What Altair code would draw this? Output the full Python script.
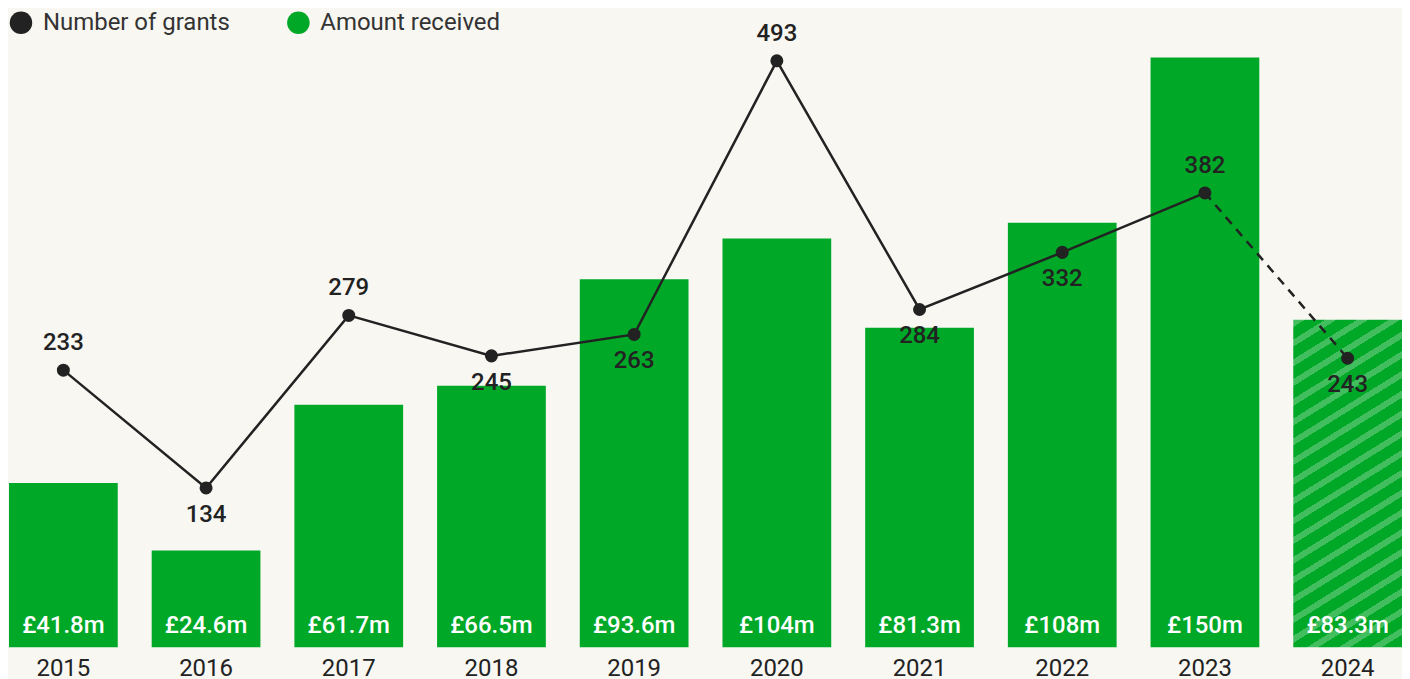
import altair as alt
import pandas as pd

years = ["2015", "2016", "2017", "2018", "2019", "2020", "2021", "2022", "2023", "2024"]
amounts = [41.8, 24.6, 61.7, 66.5, 93.6, 104, 81.3, 108, 150, 83.3]
amount_labels = ["£41.8m", "£24.6m", "£61.7m", "£66.5m", "£93.6m", "£104m", "£81.3m", "£108m", "£150m", "£83.3m"]
grants = [233, 134, 279, 245, 263, 493, 284, 332, 382, 243]
label_side = ["above", "below", "above", "below", "below", "above", "below", "below", "above", "below"]
partial = [False, False, False, False, False, False, False, False, False, True]

df = pd.DataFrame({
    "year": years,
    "amount": amounts,
    "amount_label": amount_labels,
    "grants": grants,
    "side": label_side,
    "partial": partial,
    "s_bar": "Amount received",
    "s_line": "Number of grants",
})

W, H = 1396, 640
GREEN = "#00a828"
LIGHT = "#42be5f"
DARK = "#222222"
FONT = "Roboto"

amt_dom = [0, 162.4]
cnt_dom = [0, 536.8]

# diagonal stripes via linear gradient (objectBoundingBox units)
N = 20
f = 0.36
stops = []
for i in range(N):
    a = i / N
    b = (i + f) / N
    c = (i + 1) / N
    stops += [
        {"offset": a, "color": LIGHT},
        {"offset": b, "color": LIGHT},
        {"offset": b, "color": GREEN},
        {"offset": c, "color": GREEN},
    ]
stripe = alt.Gradient(gradient="linear", stops=stops, x1=0, y1=0, x2=0.2384, y2=1.157)

color_scale = alt.Scale(domain=["Number of grants", "Amount received"], range=[DARK, GREEN])

x_enc = alt.X(
    "year:N",
    sort=years,
    scale=alt.Scale(paddingInner=0.238, paddingOuter=0),
    axis=alt.Axis(title=None, labelAngle=0, ticks=False, domain=False,
                  labelFontSize=24, labelFont=FONT, labelColor=DARK, labelPadding=9),
)

base = alt.Chart(df)

bars = base.mark_bar().encode(
    x=x_enc,
    y=alt.Y("amount:Q", scale=alt.Scale(domain=amt_dom), axis=None),
    color=alt.Color("s_bar:N", scale=color_scale,
                    legend=alt.Legend(title=None, orient="none", legendX=0, legendY=2,
                                      direction="horizontal", symbolType="circle",
                                      symbolSize=510, symbolStrokeWidth=0,
                                      labelFont=FONT, labelFontSize=24, labelColor="#333333",
                                      labelLimit=400, labelOffset=10, columnPadding=56,
                                      padding=0)),
).transform_filter("!datum.partial")

bar_partial = base.mark_bar(fill=stripe).encode(
    x=x_enc,
    y=alt.Y("amount:Q", scale=alt.Scale(domain=amt_dom), axis=None),
).transform_filter("datum.partial")

bar_text = base.mark_text(font=FONT, fontSize=24, fontWeight=500, color="white",
                          baseline="middle", dy=-21).encode(
    x=x_enc,
    y=alt.Y(datum=0, scale=alt.Scale(domain=amt_dom), axis=None),
    text="amount_label:N",
)

line_solid = base.mark_line(color=DARK, strokeWidth=2.5).encode(
    x=x_enc,
    y=alt.Y("grants:Q", scale=alt.Scale(domain=cnt_dom), axis=None),
).transform_filter("!datum.partial")

line_dash = base.mark_line(color=DARK, strokeWidth=2.5, strokeDash=[9, 7]).encode(
    x=x_enc,
    y=alt.Y("grants:Q", scale=alt.Scale(domain=cnt_dom), axis=None),
).transform_filter("datum.year >= '2023'")

points = base.mark_circle(size=170, opacity=1).encode(
    x=x_enc,
    y=alt.Y("grants:Q", scale=alt.Scale(domain=cnt_dom), axis=None),
    color=alt.Color("s_line:N", scale=color_scale),
)

txt_above = base.mark_text(font=FONT, fontSize=24, fontWeight=500, color=DARK,
                           baseline="middle", dy=-27).encode(
    x=x_enc,
    y=alt.Y("grants:Q", scale=alt.Scale(domain=cnt_dom), axis=None),
    text="grants:Q",
).transform_filter("datum.side == 'above'")

txt_below = base.mark_text(font=FONT, fontSize=24, fontWeight=500, color=DARK,
                           baseline="middle", dy=27).encode(
    x=x_enc,
    y=alt.Y("grants:Q", scale=alt.Scale(domain=cnt_dom), axis=None),
    text="grants:Q",
).transform_filter("datum.side == 'below'")

chart = alt.layer(
    bars, bar_partial, bar_text, line_solid, line_dash, points, txt_above, txt_below
).resolve_scale(y="independent").properties(
    width=W, height=H, padding=0, background="#f8f7f2"
).configure_view(stroke=None)

chart.save("out.html", embed_options={"renderer": "svg", "actions": False})
